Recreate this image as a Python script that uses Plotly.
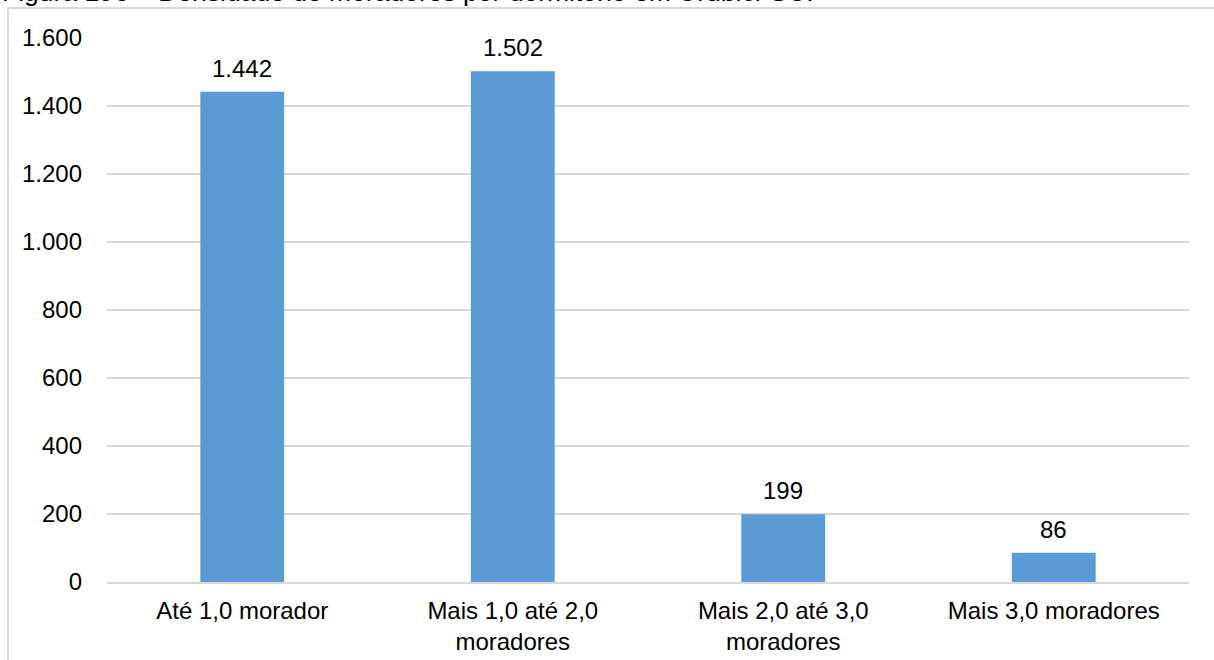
import plotly.graph_objects as go

# Dwelling density categories and household counts
categorias = [
    "Até 1,0 morador",
    "Mais 1,0 até 2,0<br>moradores",
    "Mais 2,0 até 3,0<br>moradores",
    "Mais 3,0 moradores",
]
domicilios = [1442, 1502, 199, 86]
ticks_y = [0, 200, 400, 600, 800, 1000, 1200, 1400, 1600]
titulo = "Figura 196 – Densidade de moradores por dormitório em Urubici-SC."

W, H = 1214, 660
ML, MR, MT, MB = 107, 25, 38, 78
plot_w = W - ML - MR
plot_h = H - MT - MB

FONT = "Liberation Sans, Arial, sans-serif"
BAR = "#5b9bd5"
GRID = "#d9d9d9"
FS = 24

fig = go.Figure(
    go.Bar(
        x=categorias,
        y=domicilios,
        marker=dict(color=BAR, line=dict(width=0)),
        width=0.31,
        hoverinfo="skip",
    )
)

# value labels above each bar
for cat, val in zip(categorias, domicilios):
    fig.add_annotation(
        x=cat, y=val, xref="x", yref="y",
        text=f"{val:,}".replace(",", "."),
        showarrow=False, yanchor="bottom", yshift=8,
        font=dict(family=FONT, size=FS, color="#000000"),
    )

# partially visible figure caption at the top edge
fig.add_annotation(
    x=(0 - ML) / plot_w, y=(H - MB - 9) / plot_h,
    xref="paper", yref="paper", xanchor="left", yanchor="bottom",
    text=titulo, showarrow=False,
    font=dict(family=FONT, size=26.5, color="#000000"),
)

# chart frame
fig.add_shape(
    type="rect", xref="paper", yref="paper",
    x0=(8 - ML) / plot_w, x1=(W + 20 - ML) / plot_w,
    y0=-(H - MT) / plot_h - 0.2, y1=(H - MB - 8) / plot_h,
    line=dict(color=GRID, width=2), fillcolor="rgba(0,0,0,0)", layer="below",
)

fig.update_layout(
    width=W, height=H,
    margin=dict(l=ML, r=MR, t=MT, b=MB, pad=0),
    paper_bgcolor="white", plot_bgcolor="white",
    separators=",.",
    showlegend=False,
    font=dict(family=FONT, size=FS, color="#000000"),
    xaxis=dict(
        showgrid=False, showline=True, linecolor=GRID, linewidth=2,
        ticks="", ticklabelstandoff=6, tickfont=dict(size=FS),
        automargin=False, fixedrange=True,
    ),
    yaxis=dict(
        range=[0, 1600], tickvals=ticks_y, tickformat=",d",
        showgrid=True, gridcolor=GRID, gridwidth=2,
        zeroline=False, showline=False, ticks="",
        ticklabelstandoff=24, tickfont=dict(size=FS),
        automargin=False, fixedrange=True,
    ),
)

fig.write_html("out.html")
